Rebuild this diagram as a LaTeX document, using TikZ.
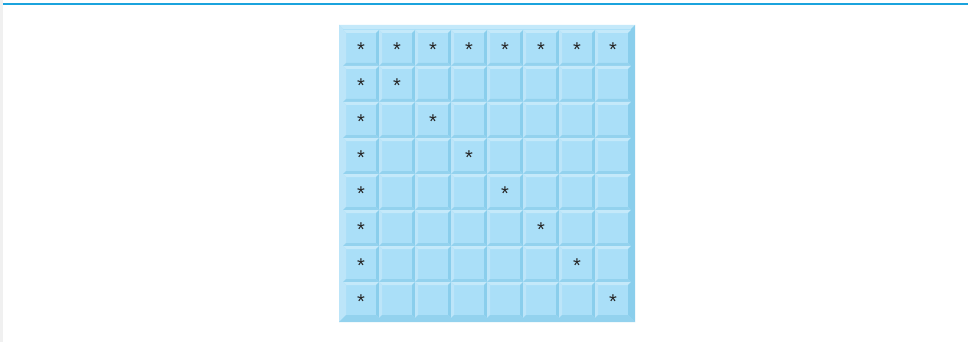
\documentclass[tikz,border=0pt]{standalone}
\usepackage{fontspec}
\newfontfamily\astfont{Liberation Sans}
\definecolor{face}{HTML}{AADFF8}
\definecolor{lite}{HTML}{C4E9FA}
\definecolor{lite2}{HTML}{BCE5F9}
\definecolor{dark}{HTML}{8ACEEC}
\definecolor{dark2}{HTML}{93D2EE}
\definecolor{topline}{HTML}{1BA3DD}
\definecolor{strip}{HTML}{F0F0F0}
\tikzset{
  star/.style={inner sep=0pt, font=\astfont\fontsize{20}{20}\selectfont, text=black!85, anchor=center},
}
\newcommand{\bevelbox}[5]{% x0 y0 x1 y1 b
  \fill[face] (#1,#2) rectangle (#3,#4);
  \fill[lite] (#1,#2) -- (#3,#2) -- ({#3-#5},{#2+#5}) -- ({#1+#5},{#2+#5}) -- cycle;
  \fill[lite2] (#1,#2) -- ({#1+#5},{#2+#5}) -- ({#1+#5},{#4-#5}) -- (#1,#4) -- cycle;
  \fill[dark] (#3,#2) -- (#3,#4) -- ({#3-#5},{#4-#5}) -- ({#3-#5},{#2+#5}) -- cycle;
  \fill[dark2] (#1,#4) -- (#3,#4) -- ({#3-#5},{#4-#5}) -- ({#1+#5},{#4-#5}) -- cycle;
}
\begin{document}
\begin{tikzpicture}[x=1pt,y=-1pt]
\useasboundingbox (0,0) rectangle (968,342);
\fill[white] (0,0) rectangle (968,342);
\fill[strip] (0,0) rectangle (3,342);
\fill[topline] (3,3) rectangle (968,5.5);
% outer frame
\bevelbox{339}{25}{635}{322}{4}
\fill[face] (343,29) rectangle (631,318);
% cells
\foreach \i in {0,...,7} {
  \foreach \j in {0,...,7} {
    \pgfmathsetmacro{\xa}{343+36*\i}
    \pgfmathsetmacro{\ya}{30+36*\j}
    \pgfmathsetmacro{\xb}{\xa+36}
    \pgfmathsetmacro{\yb}{\ya+36}
    \bevelbox{\xa}{\ya}{\xb}{\yb}{3}
  }
}
% asterisks
\foreach \i in {0,...,7} {
  \node[star] (r\i) at ({361+36*\i},{49.6}) {*};
}
\foreach \j in {1,...,7} {
  \node[star] (c\j) at (361,{49.6+36*\j}) {*};
  \node[star] (d\j) at ({361+36*\j},{49.6+36*\j}) {*};
}
\end{tikzpicture}
\end{document}
